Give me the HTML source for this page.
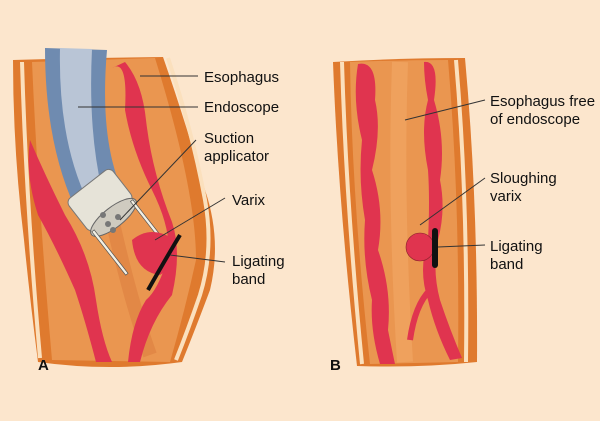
<!DOCTYPE html>
<html><head><style>
body{margin:0;background:#fce6cd;}
svg{display:block}
text{font-family:"Liberation Sans",Arial,sans-serif;font-size:15px;fill:#111}
</style></head><body>
<svg width="600" height="421" viewBox="0 0 600 421">
<rect width="600" height="421" fill="#fce6cd"/>
<!-- Panel A esophagus -->
<path d="M13,60 Q80,58 163,57 Q185,120 205,190 Q222,240 210,290 Q195,330 182,362 Q110,372 38,362 Q30,300 24,240 Q13,150 13,60Z" fill="#df7a2e"/>
<path d="M22,62 Q26,200 40,358" stroke="#fbe0bd" stroke-width="4" fill="none"/>
<path d="M168,58 Q192,130 205,200 Q214,250 200,295 Q188,330 176,360" stroke="#fbe0bd" stroke-width="4" fill="none"/>
<path d="M32,62 Q38,200 52,360 L170,362 Q185,310 196,260 Q196,190 155,58Z" fill="#ea9650"/>
<path d="M70,80 Q95,140 110,210 Q130,300 150,355" stroke="#d9783a" stroke-width="14" fill="none" opacity="0.45"/>
<!-- veins A -->
<path d="M30,140 Q45,175 65,215 Q90,255 96,300 Q102,340 112,362 L96,362 Q85,320 75,290 Q55,245 38,215 Q25,175 30,140Z" fill="#e0344f"/>
<path d="M112,68 Q128,58 125,110 Q132,150 152,190 Q172,230 168,258 Q158,290 146,300 Q132,322 128,362 L140,362 Q150,322 172,295 Q182,252 172,222 Q152,172 146,120 Q142,82 125,62Z" fill="#e0344f"/>
<!-- endoscope -->
<path d="M45,48 L107,50 Q100,130 118,180 L80,218 Q45,150 45,48Z" fill="#6f8bb0"/>
<path d="M60,48 L92,49 Q88,130 102,190 L88,202 Q58,140 60,48Z" fill="#b9c5d6"/>
<g transform="rotate(-38 100 200)">
<rect x="72" y="180" width="56" height="40" rx="6" fill="#e6e3d8" stroke="#777"/>
<ellipse cx="100" cy="222" rx="28" ry="10" fill="#cfcbc0" stroke="#666"/>
<rect x="74" y="220" width="3" height="55" fill="#f3f0e5" stroke="#555" stroke-width="0.7"/>
<rect x="123" y="220" width="3" height="55" fill="#f3f0e5" stroke="#555" stroke-width="0.7"/>
</g>
<circle cx="108" cy="224" r="3" fill="#777"/><circle cx="118" cy="217" r="3" fill="#777"/><circle cx="113" cy="230" r="3" fill="#777"/><circle cx="103" cy="215" r="3" fill="#777"/>
<path d="M132,240 Q150,225 172,238 Q178,265 160,275 Q135,272 132,240Z" fill="#e0344f"/>
<path d="M180,235 Q165,260 148,290" stroke="#111" stroke-width="4" fill="none"/>
<g stroke="#333" stroke-width="1" fill="none">
<line x1="140" y1="76" x2="198" y2="76"/>
<line x1="78" y1="107" x2="198" y2="107"/>
<line x1="120" y1="220" x2="196" y2="140"/>
<line x1="155" y1="240" x2="225" y2="198"/>
<line x1="170" y1="255" x2="225" y2="262"/>
</g>
<text x="204" y="82">Esophagus</text>
<text x="204" y="112">Endoscope</text>
<text x="204" y="143">Suction</text>
<text x="204" y="161">applicator</text>
<text x="232" y="205">Varix</text>
<text x="232" y="266">Ligating</text>
<text x="232" y="284">band</text>
<text x="38" y="370" style="font-weight:bold">A</text>
<!-- Panel B -->
<path d="M333,62 Q400,58 465,58 Q478,200 477,362 Q420,368 357,366 Q338,200 333,62Z" fill="#df7a2e"/>
<path d="M342,62 Q346,200 362,364" stroke="#fbe0bd" stroke-width="4" fill="none"/>
<path d="M456,60 Q468,200 466,362" stroke="#fbe0bd" stroke-width="4" fill="none"/>
<path d="M350,62 Q400,60 448,60 Q460,200 458,362 L370,364 Q352,200 350,62Z" fill="#ea9650"/>
<path d="M400,62 Q395,200 405,362" stroke="#f2a865" stroke-width="16" fill="none" opacity="0.6"/>
<path d="M358,64 Q378,60 375,100 Q382,130 372,170 Q385,210 378,250 Q392,290 388,330 Q392,350 395,364 L380,364 Q370,330 372,300 Q362,260 365,220 Q358,180 362,140 Q352,100 358,64Z" fill="#e0344f"/>
<path d="M424,62 Q440,60 434,100 Q446,140 440,180 Q446,210 438,240 Q432,270 440,300 Q450,330 462,358 L450,360 Q435,330 428,300 Q418,270 428,240 Q430,200 428,170 Q420,130 428,100 Q424,80 424,62Z" fill="#e0344f"/>
<path d="M430,290 Q415,305 410,340" stroke="#e0344f" stroke-width="6" fill="none"/>
<circle cx="420" cy="247" r="14" fill="#e0344f" stroke="#8a1f2a" stroke-width="0.6"/>
<rect x="432" y="228" width="6" height="40" rx="3" fill="#111"/>
<g stroke="#333" stroke-width="1" fill="none">
<line x1="405" y1="120" x2="485" y2="100"/>
<line x1="420" y1="225" x2="485" y2="178"/>
<line x1="438" y1="247" x2="485" y2="245"/>
</g>
<text x="490" y="106">Esophagus free</text>
<text x="490" y="124">of endoscope</text>
<text x="490" y="183">Sloughing</text>
<text x="490" y="201">varix</text>
<text x="490" y="251">Ligating</text>
<text x="490" y="269">band</text>
<text x="330" y="370" style="font-weight:bold">B</text>
</svg>
</body></html>
